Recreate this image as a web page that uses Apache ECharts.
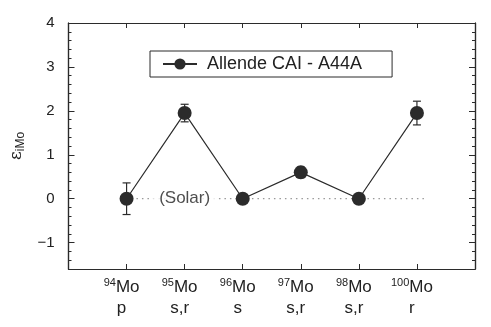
<!DOCTYPE html>
<html>
<head>
<meta charset="utf-8">
<script src="https://cdn.jsdelivr.net/npm/echarts@6/dist/echarts.min.js"></script>
<style>
  html, body { margin: 0; padding: 0; background: #fff; }
  #main { width: 491px; height: 327px; }
</style>
</head>
<body>
<div id="main"></div>
<script>
// isotopes and their process labels
const isotopes = ["94", "95", "96", "97", "98", "100"];
const processes = ["p", "s,r", "s", "s,r", "s,r", "r"];
// epsilon values and error bars
const epsValues = [0, 1.95, 0, 0.6, 0, 1.95];
const epsErrors = [0.36, 0.2, 0.05, 0.12, 0.05, 0.27];
// solar reference line (x extent in isotope index units)
const solarX = [0.17, 5.12];
const yTicks = [-1, 0, 1, 2, 3, 4];

var myChart = echarts.init(document.getElementById("main"));
const font = "Liberation Sans, Arial, sans-serif";
const ink = "#2b2b2b";

const minorVals = [];
for (let i = -8; i <= 20; i++) minorVals.push(i / 5);

const yAxisBase = {
  type: "value",
  min: -1.6,
  max: 4,
  axisLine: { show: true, onZero: false, lineStyle: { color: ink, width: 1.2 } },
  splitLine: { show: false },
};

const option = {
  backgroundColor: "#fff",
  textStyle: { fontFamily: font },
  grid: { left: 63, right: 16, top: 23, bottom: 58 },
  legend: {
    left: 150,
    top: 51,
    data: ["Allende CAI - A44A"],
    itemWidth: 34,
    itemHeight: 14,
    itemGap: 10,
    padding: [4, 30, 4, 12],
    borderColor: ink,
    borderWidth: 1,
    textStyle: { fontSize: 18, color: "#222", fontFamily: font, padding: [0, 0, 0, 5] },
  },
  xAxis: [
    {
      type: "value",
      min: -1,
      max: 6,
      interval: 1,
      position: "bottom",
      axisLine: { onZero: false, lineStyle: { color: ink, width: 1.2 } },
      axisTick: { inside: true, length: 5, lineStyle: { color: ink } },
      splitLine: { show: false },
      axisLabel: {
        margin: 8,
        formatter: (v) => {
          const i = Math.round(v);
          if (i < 0 || i >= isotopes.length) return "";
          return "{sup|" + isotopes[i] + "}{mo|Mo}\n{p|" + processes[i] + "}";
        },
        rich: {
          sup: { fontSize: 11, color: "#222", verticalAlign: "top", padding: [0, 0, 8, 0], fontFamily: font },
          mo: { fontSize: 17, color: "#222", padding: [0, 10, 0, 0], fontFamily: font, lineHeight: 21 },
          p: { fontSize: 17, color: "#222", padding: [0, 10, 0, 0], fontFamily: font, lineHeight: 21 },
        },
      },
    },
    {
      type: "value",
      min: -1,
      max: 6,
      interval: 1,
      position: "top",
      axisLine: { onZero: false, lineStyle: { color: ink, width: 1.2 } },
      axisTick: { inside: true, length: 5, lineStyle: { color: ink } },
      axisLabel: { show: false },
      splitLine: { show: false },
    },
  ],
  yAxis: [
    Object.assign({}, yAxisBase, {
      position: "left",
      name: "{e|ε}{s|iMo}",
      nameLocation: "middle",
      nameRotate: 90,
      nameGap: 38,
      nameTextStyle: {
        rich: {
          e: { fontSize: 17, color: "#222", fontFamily: "DejaVu Serif, serif" },
          s: { fontSize: 12, color: "#222", padding: [8, 0, 0, 0], fontFamily: font },
        },
      },
      axisTick: { inside: true, length: 6, customValues: yTicks, lineStyle: { color: ink } },
      axisLabel: { customValues: yTicks, fontSize: 15, color: "#222", margin: 14, fontFamily: font,
        formatter: (v) => (v < 0 ? "\u2212" + Math.abs(v) : String(v)) },
    }),
    Object.assign({}, yAxisBase, {
      position: "left",
      axisTick: { inside: true, length: 3, customValues: minorVals, lineStyle: { color: ink } },
      axisLabel: { show: false },
    }),
    Object.assign({}, yAxisBase, {
      position: "right",
      axisTick: { inside: true, length: 6, customValues: yTicks, lineStyle: { color: ink } },
      axisLabel: { show: false },
    }),
    Object.assign({}, yAxisBase, {
      position: "right",
      axisTick: { inside: true, length: 3, customValues: minorVals, lineStyle: { color: ink } },
      axisLabel: { show: false },
    }),
  ],
  series: [
    {
      name: "solar",
      type: "line",
      data: solarX.map((x) => [x, 0]),
      symbol: "none",
      silent: true,
      lineStyle: { color: "#999", width: 1.2, type: [1.5, 4] },
      z: 1,
    },
    {
      name: "solarLabel",
      type: "scatter",
      data: [[1, 0]],
      symbolSize: 0,
      silent: true,
      label: {
        show: true,
        position: "inside",
        formatter: "(Solar)",
        fontSize: 17,
        color: "#222",
        backgroundColor: "#fff",
        padding: [2, 6],
        fontFamily: font,
      },
      z: 2,
    },
    {
      name: "errors",
      type: "custom",
      silent: true,
      data: epsValues.map((v, i) => [i, v - epsErrors[i], v + epsErrors[i]]),
      renderItem: (params, api) => {
        const lo = api.coord([api.value(0), api.value(1)]);
        const hi = api.coord([api.value(0), api.value(2)]);
        const w = 4;
        const st = { stroke: ink, lineWidth: 1.2 };
        return {
          type: "group",
          children: [
            { type: "line", shape: { x1: lo[0], y1: lo[1], x2: hi[0], y2: hi[1] }, style: st },
            { type: "line", shape: { x1: lo[0] - w, y1: lo[1], x2: lo[0] + w, y2: lo[1] }, style: st },
            { type: "line", shape: { x1: hi[0] - w, y1: hi[1], x2: hi[0] + w, y2: hi[1] }, style: st },
          ],
        };
      },
      z: 3,
    },
    {
      name: "Allende CAI - A44A",
      type: "line",
      data: epsValues.map((v, i) => [i, v]),
      symbol: "circle",
      symbolSize: 14,
      itemStyle: { color: ink },
      lineStyle: { color: ink, width: 1.2 },
      z: 4,
    },
  ],
};

myChart.setOption(option);
</script>
</body>
</html>
